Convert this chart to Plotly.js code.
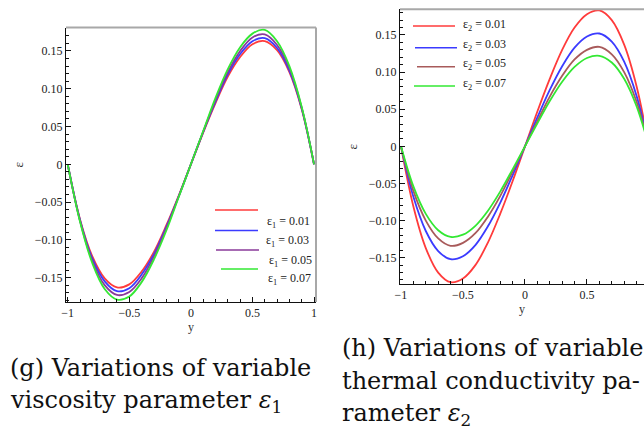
<!DOCTYPE html>
<html>
<head>
<meta charset="utf-8">
<script src="https://cdn.plot.ly/plotly-3.0.1.min.js"></script>
<style>
html,body{margin:0;padding:0;background:#fff;overflow:hidden;}
#chart{width:644px;height:436px;}
</style>
</head>
<body>
<div id="chart"></div>
<script>
// ---- data ----
const yCoord = [-1, -0.9, -0.8, -0.7, -0.6, -0.5, -0.4, -0.3, -0.2, -0.1, 0, 0.1, 0.2, 0.3, 0.4, 0.5, 0.6, 0.7, 0.8, 0.9, 1];

// (g) variable viscosity parameter eps1
const eps1Labels = ["0.01", "0.03", "0.05", "0.07"];
const visc001 = [0, -0.073, -0.122, -0.151, -0.163, -0.159, -0.142, -0.116, -0.081, -0.042, 0, 0.042, 0.081, 0.116, 0.142, 0.159, 0.163, 0.151, 0.122, 0.073, 0];
const visc003 = [0, -0.074, -0.125, -0.155, -0.168, -0.164, -0.146, -0.119, -0.083, -0.043, 0, 0.043, 0.083, 0.119, 0.146, 0.163, 0.167, 0.154, 0.124, 0.074, 0];
const visc005 = [0, -0.075, -0.128, -0.160, -0.173, -0.169, -0.151, -0.122, -0.085, -0.043, 0, 0.043, 0.085, 0.122, 0.150, 0.168, 0.172, 0.158, 0.127, 0.075, 0];
const visc007 = [0, -0.076, -0.131, -0.165, -0.179, -0.175, -0.156, -0.126, -0.088, -0.044, 0, 0.044, 0.088, 0.126, 0.155, 0.173, 0.178, 0.163, 0.130, 0.076, 0];

// (h) variable thermal conductivity parameter eps2
const eps2Labels = ["0.01", "0.03", "0.05", "0.07"];
const cond001 = [0, -0.081, -0.137, -0.170, -0.183, -0.178, -0.160, -0.130, -0.091, -0.047, 0, 0.047, 0.091, 0.130, 0.160, 0.178, 0.183, 0.170, 0.137, 0.081, 0];
const cond003 = [0, -0.068, -0.114, -0.141, -0.152, -0.148, -0.133, -0.108, -0.076, -0.039, 0, 0.039, 0.076, 0.108, 0.133, 0.148, 0.152, 0.141, 0.114, 0.068, 0];
const cond005 = [0, -0.060, -0.100, -0.124, -0.134, -0.130, -0.117, -0.095, -0.067, -0.034, 0, 0.034, 0.067, 0.095, 0.117, 0.130, 0.134, 0.124, 0.100, 0.060, 0];
const cond007 = [0, -0.054, -0.091, -0.113, -0.122, -0.119, -0.107, -0.087, -0.061, -0.031, 0, 0.031, 0.061, 0.087, 0.107, 0.119, 0.122, 0.113, 0.091, 0.054, 0];

// tick labels
const xTickVals = [-1, -0.5, 0, 0.5, 1];
const xTickText = ["\u22121", "\u22120.5", "0", "0.5", "1"];
const yTickVals = [-0.15, -0.10, -0.05, 0, 0.05, 0.10, 0.15];
const yTickText = ["\u22120.15", "\u22120.10", "\u22120.05", "0", "0.05", "0.10", "0.15"];

// captions
const captionG = ["(g) Variations of variable", "viscosity parameter <i>\u03b5</i><sub>1</sub>"];
const captionH = ["(h) Variations of variable", "thermal conductivity pa-", "rameter <i>\u03b5</i><sub>2</sub>"];

// ---- styling ----
const W = 644, H = 436;
const px = v => v / W;
const py = v => 1 - v / H;
const colsL = ["#ff3b3b", "#3b3bff", "#8a3a9a", "#33e833"];
const colsR = ["#ff3b3b", "#3b3bff", "#a85a5a", "#33e833"];
const serif = "Liberation Serif, Times New Roman, Times, serif";
const tickFont = {family: serif, size: 12, color: "#222"};

const leftSeries = [visc001, visc003, visc005, visc007];
const rightSeries = [cond001, cond003, cond005, cond007];

const traces = [];
leftSeries.forEach((s, i) => traces.push({
  x: yCoord, y: s, xaxis: "x", yaxis: "y", type: "scatter", mode: "lines",
  line: {color: colsL[i], width: 1.8, shape: "spline", smoothing: 1},
  name: "\u03b51 = " + eps1Labels[i], showlegend: false, hoverinfo: "skip"
}));
rightSeries.forEach((s, i) => traces.push({
  x: yCoord, y: s, xaxis: "x2", yaxis: "y2", type: "scatter", mode: "lines",
  line: {color: colsR[i], width: 1.8, shape: "spline", smoothing: 1},
  name: "\u03b52 = " + eps2Labels[i], showlegend: false, hoverinfo: "skip"
}));

function xAxis(domain, range, anchor) {
  return {
    domain: domain, range: range, anchor: anchor,
    showline: true, linecolor: "#111", linewidth: 1,
    ticks: "inside", ticklen: 5, tickcolor: "#111",
    tickmode: "array", tickvals: xTickVals, ticktext: xTickText,
    minor: {ticks: "inside", ticklen: 3, dtick: 0.1, tick0: 0, tickcolor: "#111"},
    showgrid: false, zeroline: false, tickfont: tickFont,
    title: {text: "y", font: {family: serif, size: 12, color: "#333"}, standoff: 2}
  };
}
function yAxis(domain, range, anchor) {
  return {
    domain: domain, range: range, anchor: anchor,
    showline: true, linecolor: "#111", linewidth: 1,
    ticks: "inside", ticklen: 5, tickcolor: "#111",
    tickmode: "array", tickvals: yTickVals, ticktext: yTickText,
    minor: {ticks: "inside", ticklen: 3, dtick: 0.01, tick0: 0, tickcolor: "#111"},
    showgrid: false, zeroline: false, tickfont: tickFont,
    title: {text: "\u03b5", font: {family: serif, size: 13, color: "#333"}, standoff: 8}
  };
}

const shapes = [];
const annotations = [];
// gray frame (top + right) of the left panel, top of the right panel
const frameCol = "#a8a8a8";
shapes.push({type: "line", xref: "x domain", yref: "y domain", x0: 0, x1: 1, y0: 1, y1: 1, line: {color: frameCol, width: 2}});
shapes.push({type: "line", xref: "x domain", yref: "y domain", x0: 1, x1: 1, y0: 0, y1: 1, line: {color: frameCol, width: 2}});
shapes.push({type: "line", xref: "x2 domain", yref: "y2 domain", x0: 0, x1: 1, y0: 1, y1: 1, line: {color: frameCol, width: 2}});

// left legend (Maple style, samples offset from labels)
const legLLines = [[215, 258, 210], [215, 258, 230.5], [216, 259, 250], [221, 258, 269]];
const legLText = [[265, 222], [264, 241], [267, 261], [266, 279]];
legLLines.forEach((l, i) => {
  shapes.push({type: "line", xref: "paper", yref: "paper", x0: px(l[0]), x1: px(l[1]), y0: py(l[2]), y1: py(l[2]), line: {color: colsL[i], width: 1.5}});
  annotations.push({xref: "paper", yref: "paper", x: px(legLText[i][0]), y: py(legLText[i][1]), xanchor: "left", yanchor: "middle", showarrow: false,
    text: "\u03b5<sub>1</sub> = " + eps1Labels[i], font: {family: serif, size: 12, color: "#222"}});
});
// right legend
const legRLines = [[413, 455, 26], [415, 457, 47.7], [417, 455, 66.7], [414, 455, 86]];
const legRText = [[461, 25], [461, 45], [461, 64.3], [461, 84]];
legRLines.forEach((l, i) => {
  shapes.push({type: "line", xref: "paper", yref: "paper", x0: px(l[0]), x1: px(l[1]), y0: py(l[2]), y1: py(l[2]), line: {color: colsR[i], width: 1.5}});
  annotations.push({xref: "paper", yref: "paper", x: px(legRText[i][0]), y: py(legRText[i][1]), xanchor: "left", yanchor: "middle", showarrow: false,
    text: "\u03b5<sub>2</sub> = " + eps2Labels[i], font: {family: serif, size: 12, color: "#222"}});
});

// captions
const capFont = {family: "DejaVu Serif", size: 24, color: "#111"};
const capGY = [368, 401];
captionG.forEach((t, i) => annotations.push({xref: "paper", yref: "paper", x: px(8), y: py(capGY[i]), xanchor: "left", yanchor: "middle", showarrow: false, text: t, font: capFont}));
const capHY = [348, 381, 414];
captionH.forEach((t, i) => annotations.push({xref: "paper", yref: "paper", x: px(340), y: py(capHY[i]), xanchor: "left", yanchor: "middle", showarrow: false, text: t, font: capFont}));

const layout = {
  width: W, height: H,
  margin: {l: 0, r: 0, t: 0, b: 0},
  paper_bgcolor: "#fff", plot_bgcolor: "#fff",
  showlegend: false,
  xaxis: xAxis([px(66), px(316)], [-1.014, 1.016], "y"),
  yaxis: yAxis([py(302), py(27.5)], [-0.1823, 0.1811], "x"),
  xaxis2: xAxis([px(400), 1], [-1.008, 0.960], "y2"),
  yaxis2: yAxis([py(284), py(9.3)], [-0.1854, 0.1846], "x2"),
  shapes: shapes,
  annotations: annotations
};

Plotly.newPlot("chart", traces, layout, {staticPlot: true, displayModeBar: false});
</script>
</body>
</html>
